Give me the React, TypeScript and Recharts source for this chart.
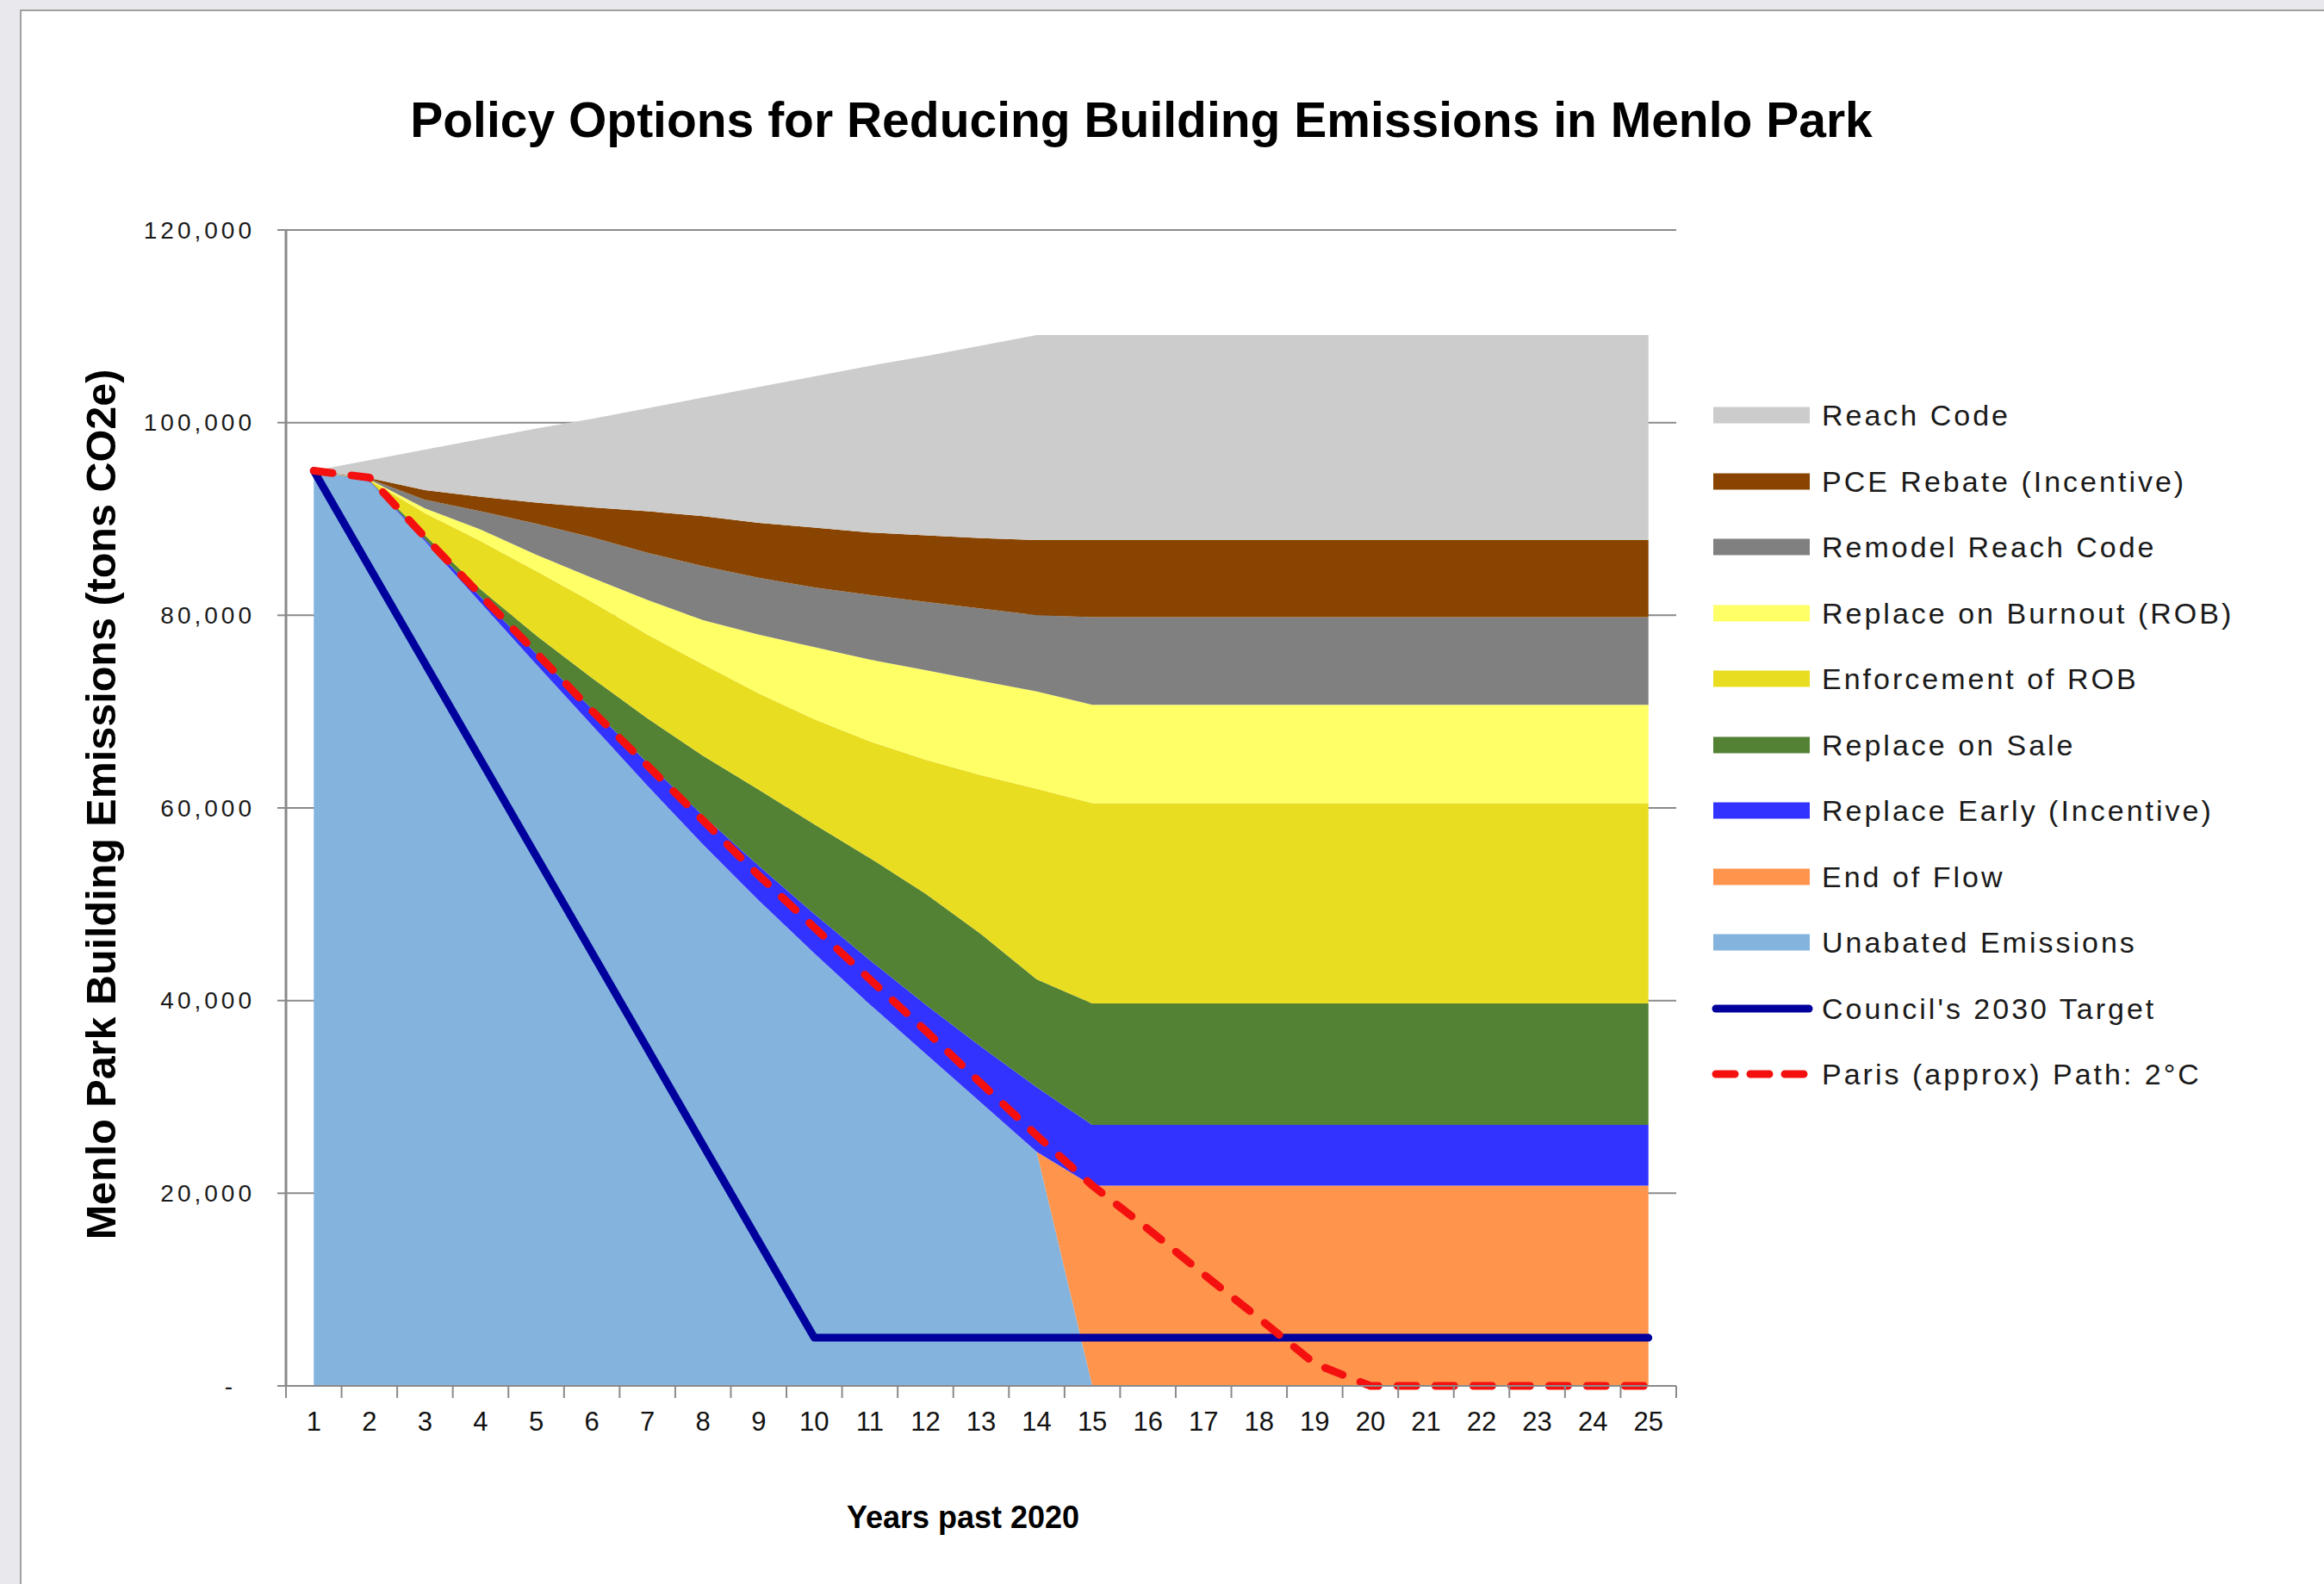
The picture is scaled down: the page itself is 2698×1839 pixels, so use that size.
import React from 'react';
import { ComposedChart, Area, Line, XAxis, YAxis, CartesianGrid } from 'recharts';

// years past 2020
const years = [1, 2, 3, 4, 5, 6, 7, 8, 9, 10, 11, 12, 13, 14, 15, 16, 17, 18, 19, 20, 21, 22, 23, 24, 25];

// stacked layers, bottom to top (tons CO2e)
const unabated = [95000, 93900, 87700, 81300, 74900, 68600, 62300, 56200, 50400, 44900, 39600, 34500, 29400, 24300, 0, 0, 0, 0, 0, 0, 0, 0, 0, 0, 0];
const endOfFlow = [0, 0, 0, 0, 0, 0, 0, 0, 0, 0, 0, 0, 0, 0, 20800, 20800, 20800, 20800, 20800, 20800, 20800, 20800, 20800, 20800, 20800];
const replaceEarly = [0, 50, 200, 600, 1100, 1700, 2400, 3000, 3600, 4100, 4600, 5100, 5800, 6700, 6300, 6300, 6300, 6300, 6300, 6300, 6300, 6300, 6300, 6300, 6300];
const replaceOnSale = [0, 50, 400, 800, 1900, 3200, 4600, 6200, 7900, 9300, 10600, 11500, 11700, 11200, 12600, 12600, 12600, 12600, 12600, 12600, 12600, 12600, 12600, 12600, 12600];
const enforcementRob = [0, 50, 2300, 5000, 6700, 7900, 8700, 9500, 10000, 10900, 12100, 13900, 16500, 19800, 20800, 20800, 20800, 20800, 20800, 20800, 20800, 20800, 20800, 20800, 20800];
const replaceOnBurnout = [0, 50, 500, 1200, 1700, 2500, 3600, 4600, 6100, 7500, 8500, 9300, 9800, 10100, 10200, 10200, 10200, 10200, 10200, 10200, 10200, 10200, 10200, 10200, 10200];
const remodelReachCode = [0, 50, 900, 1900, 3200, 4200, 4900, 5600, 5900, 6200, 6700, 7100, 7500, 7900, 9100, 9100, 9100, 9100, 9100, 9100, 9100, 9100, 9100, 9100, 9100];
const pceRebate = [0, 100, 1000, 1500, 2200, 3100, 4300, 5200, 5700, 6200, 6500, 6900, 7300, 7800, 8000, 8000, 8000, 8000, 8000, 8000, 8000, 8000, 8000, 8000, 8000];
const reachCode = [0, 1850, 4200, 6000, 7700, 9200, 10700, 12300, 14100, 15700, 17300, 18600, 20000, 21300, 21300, 21300, 21300, 21300, 21300, 21300, 21300, 21300, 21300, 21300, 21300];

// target lines
const councilTarget = [95000, 85000, 75000, 65000, 55000, 45000, 35000, 25000, 15000, 5000, 5000, 5000, 5000, 5000, 5000, 5000, 5000, 5000, 5000, 5000, 5000, 5000, 5000, 5000, 5000];
const parisPath = [95000, 94300, 88100, 82100, 76100, 70100, 64400, 58700, 53000, 47600, 42200, 36900, 31400, 26000, 20800, 16300, 11600, 7000, 2300, 0, 0, 0, 0, 0, 0];

const yTicks = [0, 20000, 40000, 60000, 80000, 100000, 120000];

const data = years.map((year, i) => ({
  year,
  unabated: unabated[i],
  endOfFlow: endOfFlow[i],
  replaceEarly: replaceEarly[i],
  replaceOnSale: replaceOnSale[i],
  enforcementRob: enforcementRob[i],
  replaceOnBurnout: replaceOnBurnout[i],
  remodelReachCode: remodelReachCode[i],
  pceRebate: pceRebate[i],
  reachCode: reachCode[i],
  council: councilTarget[i],
  paris: parisPath[i],
}));

const areaSeries = [
  { key: 'unabated', name: 'Unabated Emissions', color: '#84B4DE' },
  { key: 'endOfFlow', name: 'End of Flow', color: '#FF944D' },
  { key: 'replaceEarly', name: 'Replace Early (Incentive)', color: '#3333FF' },
  { key: 'replaceOnSale', name: 'Replace on Sale', color: '#548235' },
  { key: 'enforcementRob', name: 'Enforcement of ROB', color: '#E9DD22' },
  { key: 'replaceOnBurnout', name: 'Replace on Burnout (ROB)', color: '#FFFF66' },
  { key: 'remodelReachCode', name: 'Remodel Reach Code', color: '#808080' },
  { key: 'pceRebate', name: 'PCE Rebate (Incentive)', color: '#884400' },
  { key: 'reachCode', name: 'Reach Code', color: '#CCCCCC' },
];
const lineSeries = [
  { key: 'council', name: "Council's 2030 Target", color: '#00009C', dash: undefined as string | undefined },
  { key: 'paris', name: 'Paris (approx) Path: 2°C', color: '#F51010', dash: '22 22' },
];

const W = 2698;
const H = 1839;
const PLOT = { left: 332, top: 267, right: 1946, bottom: 1609 };
const Y_AXIS_W = 250;
const X_AXIS_H = 200;
const HALF_BAND = (PLOT.right - PLOT.left) / years.length / 2;
const FONT = "'Liberation Sans', Arial, Helvetica, sans-serif";
const GRID = '#8a8a8a';

const XTick = ({ x, y, payload }: any) => {
  const v = payload.value + 0.5;
  if (v > years[years.length - 1]) return <g />;
  return (
    <text x={x + HALF_BAND} y={y} dy="0.35em" textAnchor="middle" fontSize={31} fontFamily={FONT} fill="#111">
      {v}
    </text>
  );
};

const YTick = ({ x, y, payload }: any) => {
  const v = payload.value;
  const label = v === 0 ? '-' : v.toLocaleString('en-US');
  return (
    <text x={v === 0 ? x - 22 : x} y={y} dy="0.35em" textAnchor="end" fontSize={28} letterSpacing={4} fontFamily={FONT} fill="#1a1a1a">
      {label}
    </text>
  );
};

const legendItems = [
  ...[...areaSeries].reverse().map(s => ({ ...s, kind: 'area' })),
  ...lineSeries.map(s => ({ ...s, kind: 'line' })),
];

const LegendBox = () => (
  <div style={{ position: 'absolute', left: 1986, top: 482, fontFamily: FONT }}>
    {legendItems.map((it: any, i) => (
      <div
        key={it.key}
        style={{ position: 'absolute', left: 0, top: i * 76.5, transform: 'translateY(-50%)', display: 'flex', alignItems: 'center', whiteSpace: 'nowrap' }}
      >
        <svg width={120} height={22} style={{ display: 'block' }}>
          {it.kind === 'area' ? (
            <rect x={3} y={1.5} width={112} height={19} fill={it.color} />
          ) : (
            <line x1={6} y1={11} x2={114} y2={11} stroke={it.color} strokeWidth={9} strokeLinecap="round" strokeDasharray={it.dash ? '22 18' : undefined} />
          )}
        </svg>
        <span style={{ marginLeft: 9, fontSize: 34, letterSpacing: 3, lineHeight: 1, color: '#1a1a1a' }}>{it.name}</span>
      </div>
    ))}
  </div>
);

export default function App() {
  const boundaries = [years[0] - 0.5, ...years.map(y => y + 0.5)];
  return (
    <div style={{ position: 'absolute', left: 0, top: 0, width: W, height: H, background: '#E9E9ED', overflow: 'hidden', fontFamily: FONT }}>
      <div style={{ position: 'absolute', left: 23, top: 11, width: W, height: H, background: '#fff', borderLeft: '2px solid #a0a0a0', borderTop: '2px solid #a0a0a0' }} />
      <div style={{ position: 'absolute', left: 1325, top: 139, transform: 'translate(-50%, -50%)', fontSize: 57, fontWeight: 'bold', lineHeight: 1, whiteSpace: 'nowrap', color: '#000' }}>
        Policy Options for Reducing Building Emissions in Menlo Park
      </div>
      <div style={{ position: 'absolute', left: 0, top: 0 }}>
        <ComposedChart
          width={W}
          height={H}
          data={data}
          margin={{ top: PLOT.top, right: W - PLOT.right, bottom: H - PLOT.bottom - X_AXIS_H, left: PLOT.left - Y_AXIS_W }}
        >
          <CartesianGrid vertical={false} stroke={GRID} strokeWidth={2} />
          <XAxis
            dataKey="year"
            type="number"
            domain={[boundaries[0], boundaries[boundaries.length - 1]]}
            ticks={boundaries}
            interval={0}
            height={X_AXIS_H}
            tickSize={14}
            tickMargin={27}
            tick={<XTick />}
            tickLine={{ stroke: GRID, strokeWidth: 2 }}
            axisLine={{ stroke: GRID, strokeWidth: 2 }}
          />
          <YAxis
            type="number"
            domain={[0, 120000]}
            ticks={yTicks}
            interval={0}
            width={Y_AXIS_W}
            tickSize={10}
            tickMargin={26}
            tick={<YTick />}
            tickLine={{ stroke: GRID, strokeWidth: 2 }}
            axisLine={{ stroke: GRID, strokeWidth: 3 }}
          />
          {areaSeries.map(s => (
            <Area
              key={s.key}
              type="linear"
              dataKey={s.key}
              name={s.name}
              stackId="layers"
              fill={s.color}
              fillOpacity={1}
              stroke="none"
              dot={false}
              activeDot={false}
              isAnimationActive={false}
            />
          ))}
          {lineSeries.map(s => (
            <Line
              key={s.key}
              type="linear"
              dataKey={s.key}
              name={s.name}
              stroke={s.color}
              strokeWidth={9}
              strokeDasharray={s.dash}
              strokeLinecap="round"
              strokeLinejoin="round"
              dot={false}
              activeDot={false}
              isAnimationActive={false}
            />
          ))}
        </ComposedChart>
      </div>
      <div style={{ position: 'absolute', left: 117, top: 934, transform: 'translate(-50%, -50%) rotate(-90deg)', fontSize: 48.5, fontWeight: 'bold', lineHeight: 1, whiteSpace: 'nowrap', color: '#000' }}>
        Menlo Park Building Emissions (tons CO2e)
      </div>
      <div style={{ position: 'absolute', left: 1118, top: 1762, transform: 'translate(-50%, -50%)', fontSize: 36, fontWeight: 'bold', lineHeight: 1, whiteSpace: 'nowrap', color: '#000' }}>
        Years past 2020
      </div>
      <LegendBox />
    </div>
  );
}
